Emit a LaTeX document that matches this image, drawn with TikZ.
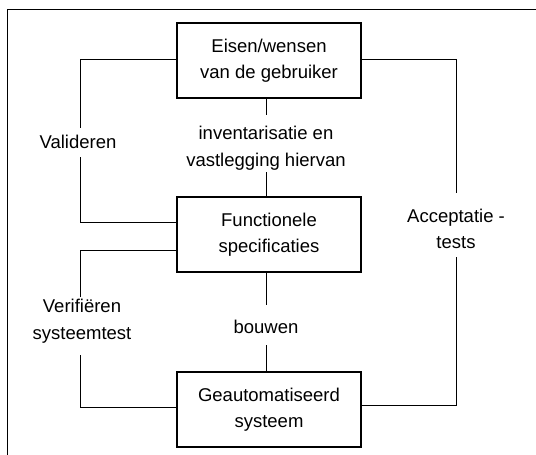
\documentclass[tikz,border=0pt]{standalone}
\usepackage{fontspec}
\setmainfont{Liberation Sans}
\begin{document}
\begin{tikzpicture}[x=1pt,y=-1pt,
  box/.style={draw,line width=1.2pt,minimum width=184pt,minimum height=75pt,align=center,inner sep=0pt},
  lbl/.style={align=center,inner sep=0pt},
  conn/.style={line width=0.9pt},
  every node/.style={font=\fontsize{18.5}{26.5}\selectfont}]
\useasboundingbox (0,0) rectangle (536,455);
\draw[line width=1.2pt] (7.5,455) -- (7.5,9.5) -- (536,9.5);
\node[box] (eisen) at (269,60.5) {Eisen/wensen\\van de gebruiker};
\node[box] (func) at (269,234.5) {Functionele\\specificaties};
\node[box] (geaut) at (269,409.5) {Geautomatiseerd\\systeem};
\node[lbl] (valid) at (78,142) {Valideren};
\node[lbl] (inv) at (266,148) {inventarisatie en\\vastlegging hiervan};
\node[lbl] (acc) at (456,229) {Acceptatie -\\tests};
\node[lbl] (verif) at (82,321) {Verifiëren\\systeemtest};
\node[lbl] (bouw) at (266,327) {bouwen};
\coordinate (v1) at (80,59);
\coordinate (v2) at (80,222);
\coordinate (s1) at (80,250);
\coordinate (s2) at (80,407);
\coordinate (a1) at (456,59);
\coordinate (a2) at (456,405);
\draw[conn] (eisen.west |- v1) -- (v1) -- (80,128);
\draw[conn] (80,157) -- (v2) -- (func.west |- v2);
\draw[conn] (func.west |- s1) -- (s1) -- (80,297);
\draw[conn] (80,355) -- (s2) -- (geaut.west |- s2);
\draw[conn] (eisen.east |- a1) -- (a1) -- (456,193);
\draw[conn] (456,257) -- (a2) -- (geaut.east |- a2);
\draw[conn] (eisen.south -| 266,0) -- (266,115);
\draw[conn] (266,172) -- (func.north -| 266,0);
\draw[conn] (func.south -| 266,0) -- (266,305);
\draw[conn] (266,345) -- (geaut.north -| 266,0);
\end{tikzpicture}
\end{document}
